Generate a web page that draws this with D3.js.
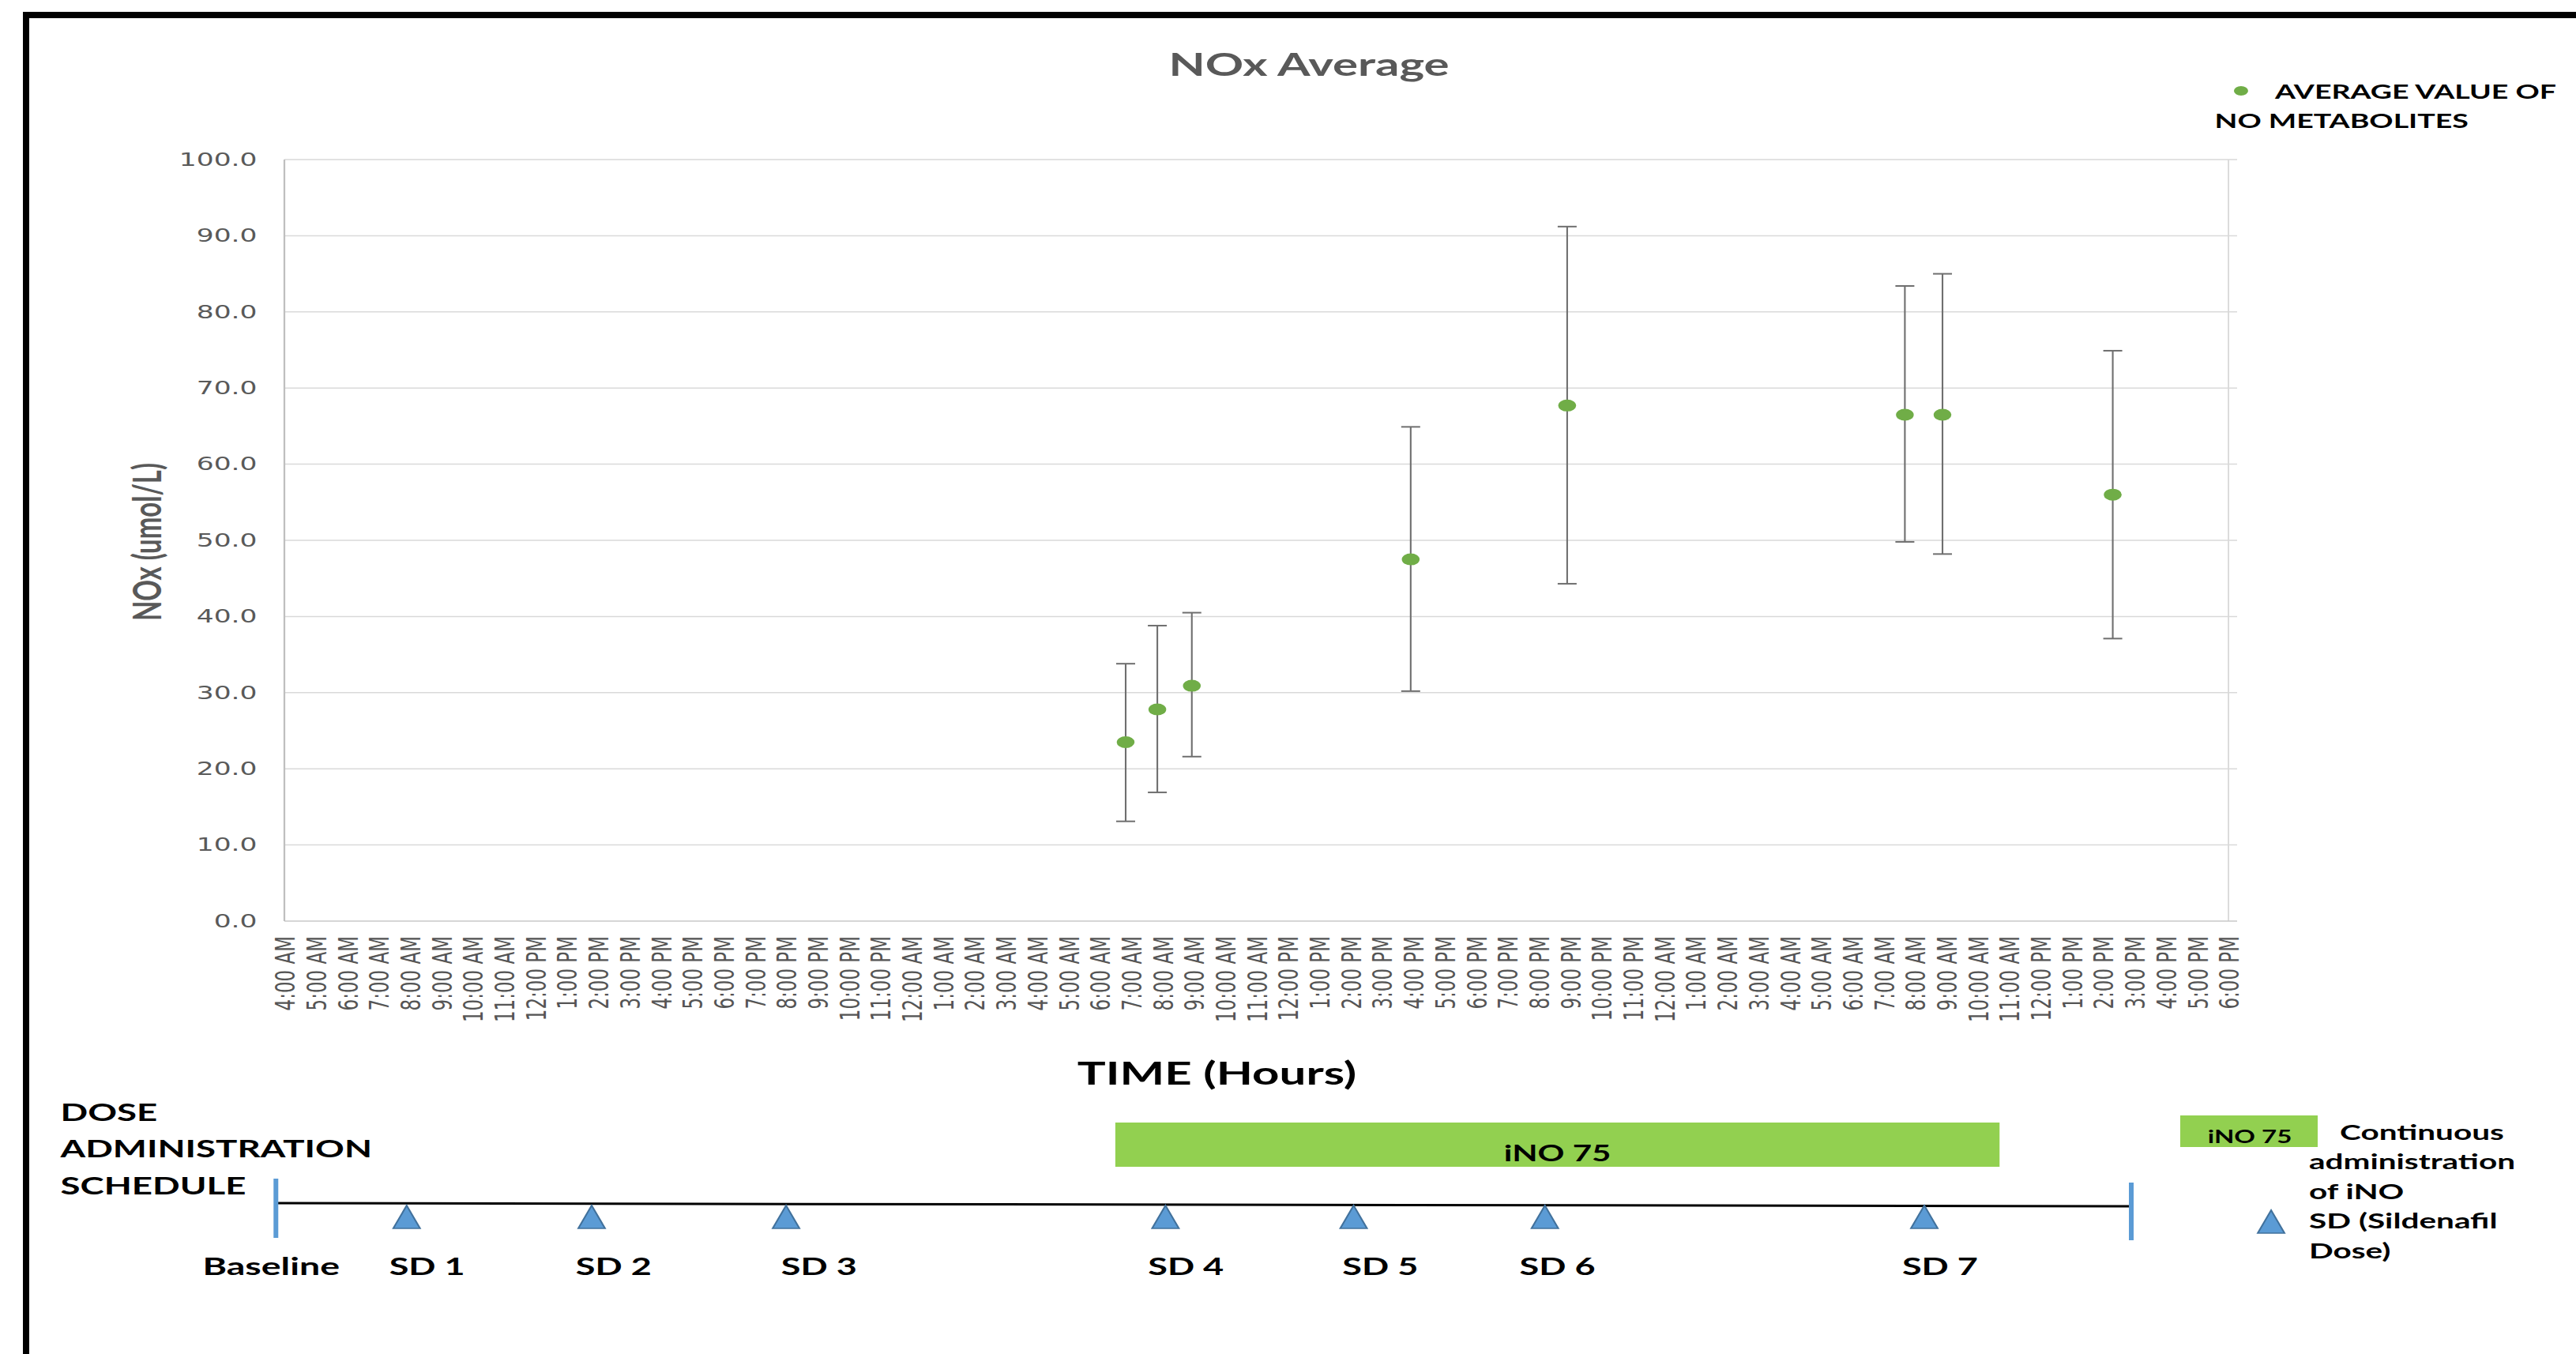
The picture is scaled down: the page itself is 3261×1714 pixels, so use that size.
<!DOCTYPE html>
<html>
<head>
<meta charset="utf-8">
<script src="https://cdn.jsdelivr.net/npm/d3@7"></script>
<style>
  html, body { margin: 0; padding: 0; background: #fff; }
  svg { display: block; }
</style>
</head>
<body>
<svg id="chart" width="3261" height="1714"></svg>
<script>
// ---------------- DATA ----------------
const timeLabels = [
  "4:00 AM","5:00 AM","6:00 AM","7:00 AM","8:00 AM","9:00 AM","10:00 AM","11:00 AM",
  "12:00 PM","1:00 PM","2:00 PM","3:00 PM","4:00 PM","5:00 PM","6:00 PM","7:00 PM",
  "8:00 PM","9:00 PM","10:00 PM","11:00 PM",
  "12:00 AM","1:00 AM","2:00 AM","3:00 AM","4:00 AM","5:00 AM","6:00 AM","7:00 AM",
  "8:00 AM","9:00 AM","10:00 AM","11:00 AM","12:00 PM","1:00 PM","2:00 PM","3:00 PM",
  "4:00 PM","5:00 PM","6:00 PM","7:00 PM","8:00 PM","9:00 PM","10:00 PM","11:00 PM",
  "12:00 AM","1:00 AM","2:00 AM","3:00 AM","4:00 AM","5:00 AM","6:00 AM","7:00 AM",
  "8:00 AM","9:00 AM","10:00 AM","11:00 AM","12:00 PM","1:00 PM","2:00 PM","3:00 PM",
  "4:00 PM","5:00 PM","6:00 PM"
];
const yTicks = [0, 10, 20, 30, 40, 50, 60, 70, 80, 90, 100];

// sample times, in hours after the first axis label (4:00 AM, day 1)
const sampleHour = [26.83, 27.84, 28.94, 35.92, 40.91, 51.68, 52.88, 58.31];
const noxMean    = [23.5, 27.8, 30.9, 47.5, 67.7, 66.5, 66.5, 56.0];
const noxUpper   = [33.8, 38.8, 40.5, 64.9, 91.2, 83.4, 85.0, 74.9];
const noxLower   = [13.1, 16.9, 21.6, 30.2, 44.3, 49.8, 48.2, 37.1];

// dose administration schedule (same hour units)
const doseLabels = ["SD 1","SD 2","SD 3","SD 4","SD 5","SD 6","SD 7"];
const doseHour   = [3.9, 9.8, 16.0, 28.1, 34.1, 40.2, 52.3];
const doseLabelHour = [4.55, 10.5, 17.05, 28.75, 34.95, 40.6, 52.8];
const inoPeriod  = [26.5, 54.7];
const scheduleSpan = [-0.27, 58.9];

// ---------------- DRAW ----------------
const S = 1.5; // horizontal stretch of the original picture
const svg = d3.select("#chart");
svg.append("rect").attr("width", 3261).attr("height", 1714).attr("fill", "#fff");

const g = svg.append("g").attr("transform", `scale(${S},1)`);
const FONT = "Lato, 'Open Sans', sans-serif";
const AXF = "'DejaVu Sans', Verdana, sans-serif";

const x = d3.scaleLinear().domain([0, timeLabels.length - 1]).range([240, 1880.7]);
const y = d3.scaleLinear().domain([0, 100]).range([1166, 202]);

// gridlines
g.append("g").selectAll("line").data(yTicks.filter(d => d > 0)).join("line")
  .attr("x1", 240).attr("x2", 1888)
  .attr("y1", d => y(d)).attr("y2", d => y(d))
  .attr("stroke", "#d9d9d9").attr("stroke-width", 1.5);
g.append("line").attr("x1", x(timeLabels.length - 1)).attr("x2", x(timeLabels.length - 1))
  .attr("y1", y(100)).attr("y2", y(0)).attr("stroke", "#d9d9d9").attr("stroke-width", 1.2);
// axis lines
g.append("line").attr("x1", 240).attr("x2", 1888).attr("y1", y(0)).attr("y2", y(0))
  .attr("stroke", "#c8c8c8").attr("stroke-width", 1.5);
g.append("line").attr("x1", 240).attr("x2", 240).attr("y1", y(100)).attr("y2", y(0))
  .attr("stroke", "#bfbfbf").attr("stroke-width", 1.5);

// y axis
const yAxis = g.append("g").attr("transform", "translate(240,0)")
  .call(d3.axisLeft(y).tickValues(yTicks).tickFormat(d3.format(".1f")).tickSize(0).tickPadding(23));
yAxis.select(".domain").remove();
yAxis.selectAll("text").attr("font-family", AXF).attr("font-size", 23).attr("fill", "#595959");

// x axis
const xAxis = g.append("g").attr("transform", `translate(0,${y(0)})`)
  .call(d3.axisBottom(x).tickValues(d3.range(timeLabels.length)).tickFormat(i => timeLabels[i]).tickSize(0));
xAxis.select(".domain").remove();
xAxis.selectAll("text")
  .attr("font-family", AXF).attr("font-size", 23).attr("fill", "#555555")
  .attr("text-anchor", "end").attr("transform", "rotate(-90)")
  .attr("x", -19).attr("y", 0).attr("dy", "0.36em");

// error bars
const pts = sampleHour.map((h, i) => ({h, m: noxMean[i], lo: noxLower[i], hi: noxUpper[i]}));
const eb = g.append("g").attr("stroke", "#6f6f6f").attr("stroke-width", 1.4);
eb.selectAll(".v").data(pts).join("line")
  .attr("x1", d => x(d.h)).attr("x2", d => x(d.h)).attr("y1", d => y(d.lo)).attr("y2", d => y(d.hi));
eb.selectAll(".t").data(pts).join("line")
  .attr("x1", d => x(d.h) - 8).attr("x2", d => x(d.h) + 8).attr("y1", d => y(d.hi)).attr("y2", d => y(d.hi))
  .attr("stroke-width", 2);
eb.selectAll(".b").data(pts).join("line")
  .attr("x1", d => x(d.h) - 8).attr("x2", d => x(d.h) + 8).attr("y1", d => y(d.lo)).attr("y2", d => y(d.lo))
  .attr("stroke-width", 2);
g.append("g").selectAll("circle").data(pts).join("circle")
  .attr("cx", d => x(d.h)).attr("cy", d => y(d.m)).attr("r", 7.5).attr("fill", "#70ad47");

// title & axis titles
g.append("text").attr("x", 1104.7).attr("y", 96).attr("text-anchor", "middle")
  .attr("font-family", FONT).attr("font-weight", 700).attr("font-size", 40).attr("fill", "#595959")
  .text("NOx Average");
g.append("text").attr("transform", "translate(124.7,686) rotate(-90)").attr("text-anchor", "middle")
  .attr("dy", "0.35em")
  .attr("font-family", FONT).attr("font-weight", 700).attr("font-size", 33).attr("fill", "#595959")
  .text("NOx (umol/L)");
g.append("text").attr("x", 1027).attr("y", 1373).attr("text-anchor", "middle")
  .attr("font-family", FONT).attr("font-weight", 700).attr("font-size", 40).attr("fill", "#000")
  .text("TIME (Hours)");

// top legend
g.append("circle").attr("cx", 1891.3).attr("cy", 115).attr("r", 6).attr("fill", "#70ad47");
g.append("text").attr("x", 1920).attr("y", 125)
  .attr("font-family", FONT).attr("font-weight", 700).attr("font-size", 25).attr("fill", "#000")
  .text("AVERAGE VALUE OF");
g.append("text").attr("x", 1869).attr("y", 162)
  .attr("font-family", FONT).attr("font-weight", 700).attr("font-size", 25).attr("fill", "#000")
  .text("NO METABOLITES");

// ---------- dose administration schedule ----------
const sch = g.append("g").attr("font-family", FONT).attr("font-weight", 700).attr("fill", "#000");
["DOSE", "ADMINISTRATION", "SCHEDULE"].forEach((t, i) => {
  sch.append("text").attr("x", 51).attr("y", 1419 + i * 46.5).attr("font-size", 30.4).text(t);
});
// iNO bar
g.append("rect").attr("x", x(inoPeriod[0])).attr("y", 1421)
  .attr("width", x(inoPeriod[1]) - x(inoPeriod[0])).attr("height", 56).attr("fill", "#92d050");
g.append("text").attr("x", (x(inoPeriod[0]) + x(inoPeriod[1])) / 2).attr("y", 1470)
  .attr("text-anchor", "middle").attr("font-family", FONT).attr("font-weight", 700)
  .attr("font-size", 28).attr("fill", "#000").text("iNO 75");
// timeline
g.append("line").attr("x1", x(scheduleSpan[0])).attr("x2", x(scheduleSpan[1]))
  .attr("y1", 1523).attr("y2", 1527).attr("stroke", "#000").attr("stroke-width", 3);
g.append("line").attr("x1", x(scheduleSpan[0])).attr("x2", x(scheduleSpan[0]))
  .attr("y1", 1492).attr("y2", 1567).attr("stroke", "#5b9bd5").attr("stroke-width", 4);
g.append("line").attr("x1", x(scheduleSpan[1])).attr("x2", x(scheduleSpan[1]))
  .attr("y1", 1497).attr("y2", 1570).attr("stroke", "#5b9bd5").attr("stroke-width", 4);
const tri = (cx, top) => `M${cx},${top} L${cx + 11.3},${top + 29} L${cx - 11.3},${top + 29} Z`;
g.append("g").selectAll("path").data(doseHour).join("path")
  .attr("d", d => tri(x(d), 1526))
  .attr("fill", "#5b9bd5").attr("stroke", "#41719c").attr("stroke-width", 1.5);
g.append("g").selectAll("text").data(doseLabelHour).join("text")
  .attr("x", d => x(d)).attr("y", 1614).attr("text-anchor", "middle")
  .attr("font-family", FONT).attr("font-weight", 700).attr("font-size", 30).attr("fill", "#000")
  .text((d, i) => doseLabels[i]);
g.append("text").attr("x", x(scheduleSpan[0]) - 4).attr("y", 1614).attr("text-anchor", "middle")
  .attr("font-family", FONT).attr("font-weight", 700).attr("font-size", 31).attr("fill", "#000")
  .text("Baseline");

// bottom legend
g.append("rect").attr("x", 1840).attr("y", 1412).attr("width", 116).attr("height", 40).attr("fill", "#92d050");
g.append("text").attr("x", 1898.7).attr("y", 1447).attr("text-anchor", "middle")
  .attr("font-family", FONT).attr("font-weight", 700).attr("font-size", 22).attr("fill", "#000").text("iNO 75");
g.append("text").attr("x", 1974.7).attr("y", 1443)
  .attr("font-family", FONT).attr("font-weight", 700).attr("font-size", 27).attr("fill", "#000").text("Continuous");
["administration", "of iNO", "SD (Sildenafil", "Dose)"].forEach((t, i) => {
  g.append("text").attr("x", 1948.7).attr("y", 1480 + i * 37.7)
    .attr("font-family", FONT).attr("font-weight", 700).attr("font-size", 27).attr("fill", "#000").text(t);
});
g.append("path").attr("d", tri(1916.7, 1532))
  .attr("fill", "#5b9bd5").attr("stroke", "#41719c").attr("stroke-width", 1.5);

// frame
svg.append("rect").attr("x", 29).attr("y", 15).attr("width", 3261 - 29).attr("height", 8).attr("fill", "#000");
svg.append("rect").attr("x", 29).attr("y", 15).attr("width", 8).attr("height", 1714 - 15).attr("fill", "#000");
</script>
</body>
</html>
